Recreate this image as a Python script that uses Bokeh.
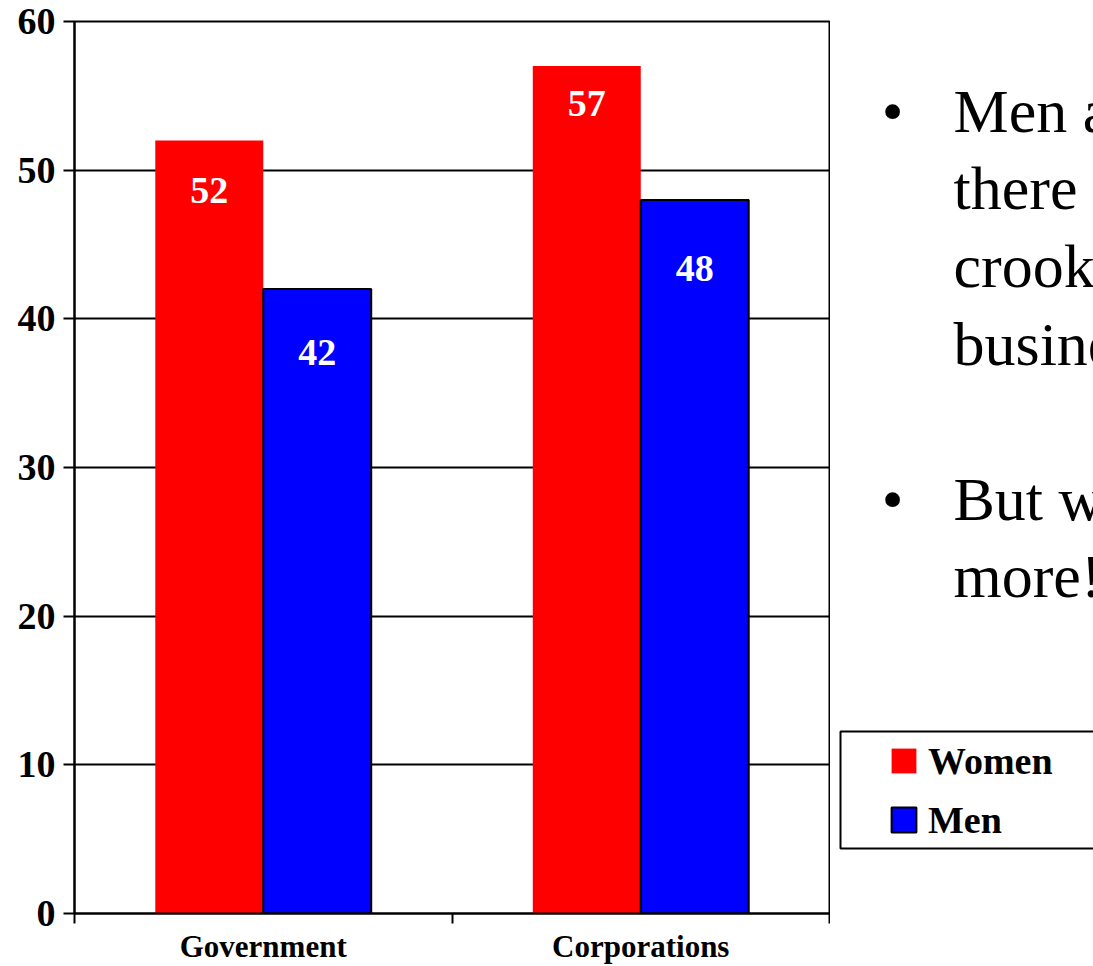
import numpy as np
from bokeh.plotting import figure
from bokeh.layouts import row
from bokeh.models import (Range1d, FixedTicker, Legend, LegendItem, LabelSet,
                          ColumnDataSource)
from bokeh.embed import file_html
from bokeh.resources import INLINE
from bokeh.core.properties import value

# ---------------- data ----------------
categories = ["Government", "Corporations"]
series_names = ["Women", "Men"]
women = [52, 57]
men = [42, 48]
y_ticks = [0, 10, 20, 30, 40, 50, 60]
bullet_paragraphs = [["Men are", "there are", "crooks in", "business"],
                     ["But women", "more!"]]

# ---------------- layout / style ----------------
W, H = 1093, 966
LW = 830                                   # width of chart panel
FL, FR, FT, FB = 74, 829, 21, 913          # frame edges (page px)
SERIF = "Liberation Serif"
RED, BLUE = "#FF0000", "#0000FF"
bar_w = 0.286
women_label_drop = [50, 37]                # px below bar top
men_label_drop = [63, 69]
BULLET_FS = 62                             # px

p = figure(width=LW, height=H, output_backend="svg", toolbar_location=None,
           x_range=Range1d(0, len(categories)), y_range=Range1d(0, 60),
           min_border_left=FL, min_border_right=LW - FR,
           min_border_top=FT, min_border_bottom=H - FB)
p.background_fill_color = "white"
p.border_fill_color = "white"
p.outline_line_color = "black"
p.outline_line_width = 2

xc = np.arange(len(categories)) + 0.5
src = ColumnDataSource(dict(
    xw=xc - bar_w / 2, xm=xc + bar_w / 2,
    women=women, men=men,
    wl=[str(v) for v in women], ml=[str(v) for v in men],
    wo=[-d for d in women_label_drop], mo=[-d for d in men_label_drop],
))

women_style = dict(fill_color=RED, line_color=None)
men_style = dict(fill_color=BLUE, line_color="black", line_width=2)
rw = p.vbar(x="xw", top="women", width=bar_w, source=src, **women_style)
rm = p.vbar(x="xm", top="men", width=bar_w, source=src, **men_style)

for xcol, ycol, tcol, ocol in [("xw", "women", "wl", "wo"), ("xm", "men", "ml", "mo")]:
    p.add_layout(LabelSet(x=xcol, y=ycol, text=tcol, y_offset=ocol, source=src,
                          text_align="center", text_baseline="middle",
                          text_color="white", text_font=value(SERIF),
                          text_font_style="bold", text_font_size="38px"))

# axes
xa = p.xaxis[0]
xa.ticker = FixedTicker(ticks=list(map(float, xc)),
                        minor_ticks=[float(i) for i in range(len(categories) + 1)])
xa.major_label_overrides = {float(x): c for x, c in zip(xc, categories)}
xa.major_tick_out = 0
xa.major_tick_in = 0
xa.minor_tick_out = 10
xa.minor_tick_in = 0
xa.minor_tick_line_width = 2
xa.axis_line_width = 2
xa.axis_line_color = "black"
xa.major_label_text_font = SERIF
xa.major_label_text_font_style = "bold"
xa.major_label_text_font_size = "31px"
xa.major_label_text_color = "black"
xa.major_label_standoff = 5

ya = p.yaxis[0]
ya.ticker = FixedTicker(ticks=y_ticks, minor_ticks=[])
ya.major_tick_out = 11
ya.major_tick_in = 0
ya.major_tick_line_width = 2
ya.axis_line_width = 2
ya.axis_line_color = "black"
ya.major_label_text_font = SERIF
ya.major_label_text_font_style = "bold"
ya.major_label_text_font_size = "38px"
ya.major_label_text_color = "black"
ya.major_label_standoff = 8

p.xgrid.visible = False
p.ygrid.grid_line_color = "black"
p.ygrid.grid_line_width = 2

# ---------------- right panel: bullets + legend ----------------
# its frame is aligned with the chart frame (rows FT..FB), so use page px as data
q = figure(width=W - LW, height=H, output_backend="svg", toolbar_location=None,
           x_range=Range1d(LW, W), y_range=Range1d(FB, FT),
           min_border_left=0, min_border_right=0,
           min_border_top=FT, min_border_bottom=H - FB,
           x_axis_type=None, y_axis_type=None)
q.outline_line_color = None
q.background_fill_color = "white"
q.border_fill_color = "white"
q.grid.visible = False

# legend frame
q.quad(left=[840], right=[W + 20], top=[731], bottom=[848],
       fill_color="white", line_color="black", line_width=2)

# legend keys: same series and styles as the bars (hidden here, shown in legend)
kw = q.vbar(x="xw", top="women", width=bar_w, source=src, visible=False, **women_style)
km = q.vbar(x="xm", top="men", width=bar_w, source=src, visible=False, **men_style)
legend = Legend(items=[LegendItem(label=series_names[0], renderers=[kw]),
                       LegendItem(label=series_names[1], renderers=[km])],
                location=(888 - LW, FB - 841.5),
                glyph_width=31, glyph_height=31, label_height=31,
                label_standoff=9, spacing=15, padding=0, margin=0,
                border_line_color=None, background_fill_alpha=0,
                label_text_font=SERIF, label_text_font_style="bold",
                label_text_font_size="38px", label_text_color="black",
                label_width=120)
q.add_layout(legend)

# bullet text (clipped at the right edge, as in the reference)
line_h = 77.7
para_first_baseline = [131, 519]
mid_shift = 0.338 * BULLET_FS             # baseline -> em-box middle
bx, by, tx, ty, tt = [], [], [], [], []
for para, base in zip(bullet_paragraphs, para_first_baseline):
    bx.append(892)
    by.append(base - mid_shift)
    for i, line in enumerate(para):
        tx.append(953)
        ty.append(base + i * line_h - mid_shift)
        tt.append(line)
q.text(x=bx, y=by, text=["\u2022"] * len(bx), text_align="center",
       text_baseline="middle", text_font=value(SERIF),
       text_font_size=f"{BULLET_FS}px", text_color="black")
q.text(x=tx, y=ty, text=tt, text_align="left",
       text_baseline="middle", text_font=value(SERIF),
       text_font_size=f"{BULLET_FS}px", text_color="black")

layout = row(p, q)
open("out.html", "w").write(file_html(layout, INLINE))
